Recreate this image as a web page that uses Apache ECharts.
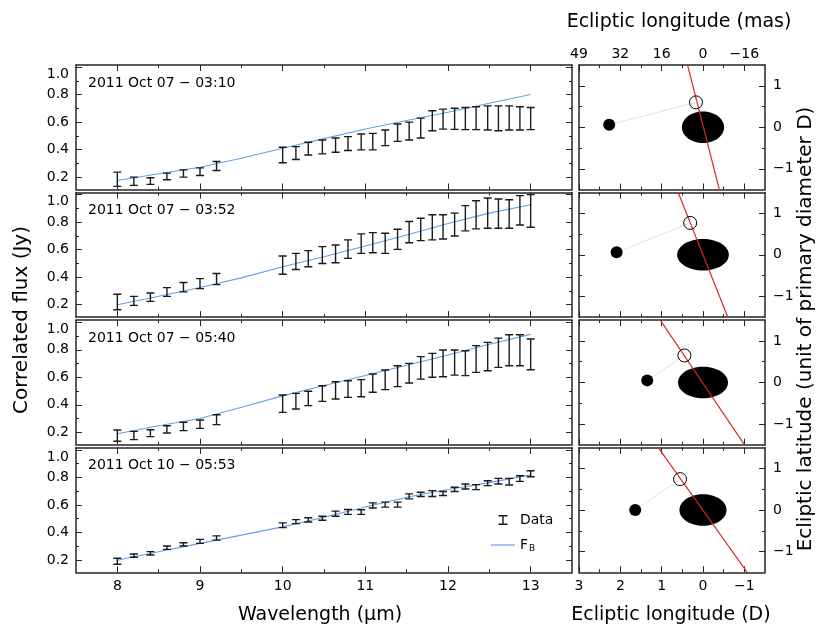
<!DOCTYPE html>
<html><head><meta charset="utf-8">
<script src="https://cdn.jsdelivr.net/npm/echarts@6/dist/echarts.min.js"></script>
<style>html,body{margin:0;padding:0;background:#fff}#c{width:829px;height:628px}</style>
</head><body><div id="c"></div><script>
// ---------- data ----------
const wavelengths = [8.0,8.2,8.4,8.6,8.8,9.0,9.2,10.0,10.16,10.31,10.48,10.64,10.79,10.95,11.09,11.24,11.39,11.53,11.67,11.81,11.94,12.08,12.21,12.34,12.48,12.61,12.74,12.87,13.0];

const fluxLow1  = [0.133,0.14,0.147,0.181,0.2,0.212,0.248,0.304,0.328,0.361,0.369,0.381,0.393,0.398,0.398,0.429,0.46,0.47,0.484,0.537,0.549,0.547,0.545,0.545,0.542,0.537,0.542,0.542,0.545];
const fluxHigh1 = [0.236,0.2,0.195,0.229,0.253,0.267,0.313,0.417,0.422,0.453,0.47,0.484,0.494,0.513,0.518,0.542,0.586,0.6,0.629,0.682,0.694,0.701,0.706,0.711,0.718,0.718,0.718,0.711,0.706];

const fluxLow2  = [0.163,0.195,0.224,0.261,0.293,0.317,0.346,0.422,0.456,0.476,0.5,0.505,0.537,0.573,0.578,0.573,0.602,0.651,0.666,0.671,0.678,0.7,0.737,0.751,0.756,0.756,0.756,0.78,0.763];
const fluxHigh2 = [0.276,0.261,0.285,0.324,0.361,0.39,0.427,0.554,0.573,0.593,0.622,0.634,0.671,0.715,0.724,0.72,0.749,0.805,0.829,0.854,0.854,0.866,0.92,0.956,0.976,0.968,0.963,0.993,1.0];

const fluxLow3  = [0.135,0.147,0.169,0.195,0.212,0.229,0.256,0.345,0.369,0.394,0.425,0.442,0.454,0.459,0.491,0.51,0.532,0.558,0.587,0.6,0.604,0.616,0.612,0.636,0.648,0.672,0.684,0.684,0.655];
const fluxHigh3 = [0.217,0.207,0.219,0.248,0.273,0.29,0.328,0.471,0.483,0.498,0.539,0.568,0.575,0.583,0.624,0.653,0.684,0.701,0.75,0.774,0.798,0.798,0.793,0.83,0.854,0.885,0.909,0.909,0.878];

const fluxLow4  = [0.169,0.219,0.236,0.277,0.301,0.32,0.344,0.435,0.464,0.476,0.488,0.517,0.531,0.531,0.577,0.584,0.584,0.644,0.661,0.661,0.668,0.697,0.716,0.711,0.74,0.752,0.745,0.771,0.805];
const fluxHigh4 = [0.212,0.243,0.26,0.301,0.325,0.349,0.375,0.469,0.493,0.507,0.517,0.555,0.567,0.565,0.615,0.62,0.62,0.68,0.692,0.704,0.697,0.728,0.752,0.747,0.776,0.793,0.793,0.812,0.848];

const modelWavelengths = [8,8.5,9,9.5,10,10.5,11,11.5,12,12.5,13];
const model1 = [0.175,0.225,0.272,0.337,0.41,0.48,0.55,0.612,0.672,0.737,0.8];
const model2 = [0.2,0.261,0.325,0.395,0.476,0.549,0.627,0.707,0.79,0.866,0.927];
const model3 = [0.19,0.248,0.3,0.382,0.465,0.54,0.613,0.688,0.762,0.84,0.912];
const model4 = [0.198,0.26,0.32,0.38,0.44,0.51,0.585,0.655,0.712,0.762,0.818];

const epochLabels = ['2011 Oct 07 \u2212 03:10','2011 Oct 07 \u2212 03:52','2011 Oct 07 \u2212 05:40','2011 Oct 10 \u2212 05:53'];

// satellite measured position (filled), predicted position (open), in units of D
const satelliteMeasured  = [[2.27,0.06],[2.09,0.06],[1.35,0.05],[1.64,0.0]];
const satellitePredicted = [[0.17,0.60],[0.31,0.77],[0.45,0.65],[0.555,0.745]];
// primary projected ellipse semi-axes (x, y)
const primaryRadiusX = [0.51,0.625,0.605,0.57];
const primaryRadiusY = [0.38,0.38,0.38,0.38];
// red line end points
const redLineTop    = [[0.40,1.6],[0.64,1.6],[1.10,1.6],[1.15,1.6]];
const redLineBottom = [[-0.42,-1.6],[-0.64,-1.6],[-1.07,-1.6],[-1.14,-1.6]];

// tick values / labels
const fluxXMajor = [8,9,10,11,12,13];
const fluxXMinor = [8.5,9.5,10.5,11.5,12.5];
const fluxYMajor = [0.2,0.4,0.6,0.8,1.0];
const fluxYMinor = [0.3,0.5,0.7,0.9];
const lonMajor = [3,2,1,0,-1];
const lonMinor = [2.5,1.5,0.5,-0.5];
const lonMasLabels = ['49','32','16','0','\u221216'];
const latMajor = [1,0,-1];
const latMinor = [0.5,-0.5];

// ---------- layout ----------
const FONT = 'DejaVu Sans';
const T = [65, 192.6, 320.2, 447.8];
const H = 124.5;
const AX = '#262626';
const BLUE = '#64a0f0';

const grids = [], xAxes = [], yAxes = [], series = [], titles = [];
const minusFmt = v => String(v).replace('-', '\u2212');

function axis(gi, pos, min, max, inv, ticks, len, showLine, labels, fmt, extra) {
  return {
    type: 'value', gridIndex: gi, position: pos, min: min, max: max, inverse: inv,
    axisLine: {show: showLine, onZero: false, lineStyle: {color: AX, width: 1.5}},
    axisTick: {show: true, inside: true, length: len, customValues: ticks, lineStyle: {color: AX, width: 1}},
    axisLabel: labels ? Object.assign({show: true, customValues: labels, formatter: fmt, color: '#000', fontSize: 14, fontFamily: FONT}, extra || {}) : {show: false},
    splitLine: {show: false}, minorTick: {show: false}, minorSplitLine: {show: false}
  };
}
function push(arr, o) { arr.push(o); return arr.length - 1; }

const lows = [fluxLow1, fluxLow2, fluxLow3, fluxLow4];
const highs = [fluxHigh1, fluxHigh2, fluxHigh3, fluxHigh4];
const models = [model1, model2, model3, model4];

function errorBarRender(params, api) {
  const x = api.value(0), lo = api.value(1), hi = api.value(2);
  const a = api.coord([x, lo]), b = api.coord([x, hi]);
  const hw = 4;
  const st = {stroke: '#1a1a1a', lineWidth: 1.4, fill: null};
  return {type: 'group', children: [
    {type: 'line', shape: {x1: a[0], y1: a[1], x2: b[0], y2: b[1]}, style: st},
    {type: 'line', shape: {x1: a[0] - hw, y1: a[1], x2: a[0] + hw, y2: a[1]}, style: st},
    {type: 'line', shape: {x1: b[0] - hw, y1: b[1], x2: b[0] + hw, y2: b[1]}, style: st}
  ]};
}
function ellipseRender(params, api) {
  const c = api.coord([api.value(0), api.value(1)]);
  const s = api.size([api.value(2), api.value(3)]);
  return {type: 'ellipse', shape: {cx: c[0], cy: c[1], rx: s[0], ry: s[1]}, style: {fill: '#000'}};
}

for (let i = 0; i < 4; i++) {
  // ----- left (flux) panel -----
  const gi = push(grids, {left: 76, top: T[i], width: 496, height: H, outerBoundsMode: 'none'});
  const last = i === 3;
  const xb = push(xAxes, axis(gi, 'bottom', 7.5, 13.5, false, fluxXMajor, 6, true, last ? fluxXMajor : null, v => String(v), {margin: 7}));
  push(xAxes, axis(gi, 'bottom', 7.5, 13.5, false, fluxXMinor, 3, false, null));
  push(xAxes, axis(gi, 'top', 7.5, 13.5, false, fluxXMajor, 6, true, null));
  push(xAxes, axis(gi, 'top', 7.5, 13.5, false, fluxXMinor, 3, false, null));
  const yl = push(yAxes, axis(gi, 'left', 0.11, 1.015, false, fluxYMajor, 6, true, fluxYMajor, v => v.toFixed(1), {margin: 7, verticalAlignMaxLabel: 'top'}));
  push(yAxes, axis(gi, 'left', 0.11, 1.015, false, fluxYMinor, 3, false, null));
  push(yAxes, axis(gi, 'right', 0.11, 1.015, false, fluxYMajor, 6, true, null));
  push(yAxes, axis(gi, 'right', 0.11, 1.015, false, fluxYMinor, 3, false, null));

  series.push({
    name: 'Data', type: 'custom', xAxisIndex: xb, yAxisIndex: yl, clip: true,
    renderItem: errorBarRender, itemStyle: {color: '#1a1a1a'}, encode: {x: 0, y: [1, 2]},
    data: wavelengths.map((w, j) => [w, lows[i][j], highs[i][j]]), z: 3
  });
  series.push({
    name: 'F_B', type: 'line', xAxisIndex: xb, yAxisIndex: yl, symbol: 'none', showSymbol: false,
    lineStyle: {color: BLUE, width: 1.1}, itemStyle: {color: BLUE},
    data: modelWavelengths.map((w, j) => [w, models[i][j]]), z: 2
  });
  titles.push({text: epochLabels[i], left: 88, top: T[i] + 11, padding: 0,
    textStyle: {fontSize: 14, fontWeight: 'normal', fontFamily: FONT, color: '#000'}});

  // ----- right (astrometry) panel -----
  const gr = push(grids, {left: 579, top: T[i], width: 186, height: H, outerBoundsMode: 'none'});
  const rxb = push(xAxes, axis(gr, 'bottom', -1.5, 3, true, lonMajor, 6, true, last ? lonMajor : null, minusFmt, {margin: 7}));
  push(xAxes, axis(gr, 'bottom', -1.5, 3, true, lonMinor, 3, false, null));
  push(xAxes, axis(gr, 'top', -1.5, 3, true, lonMajor, 6, true, i === 0 ? lonMajor : null,
    v => lonMasLabels[lonMajor.indexOf(Math.round(v))], {margin: 4}));
  push(xAxes, axis(gr, 'top', -1.5, 3, true, lonMinor, 3, false, null));
  const ryl = push(yAxes, axis(gr, 'left', -1.5, 1.5, false, latMajor, 6, true, null));
  push(yAxes, axis(gr, 'left', -1.5, 1.5, false, latMinor, 3, false, null));
  push(yAxes, axis(gr, 'right', -1.5, 1.5, false, latMajor, 6, true, latMajor, minusFmt, {margin: 8, padding: [8, 0, 0, 0]}));
  push(yAxes, axis(gr, 'right', -1.5, 1.5, false, latMinor, 3, false, null));

  series.push({
    name: 'primary' + i, type: 'custom', xAxisIndex: rxb, yAxisIndex: ryl, renderItem: ellipseRender,
    data: [[0, 0, primaryRadiusX[i], primaryRadiusY[i]]], z: 2
  });
  series.push({
    name: 'link' + i, type: 'line', xAxisIndex: rxb, yAxisIndex: ryl, symbol: 'none',
    lineStyle: {color: '#c4c4c4', width: 1, type: 'dotted'},
    data: [satelliteMeasured[i], satellitePredicted[i]], z: 3
  });
  series.push({
    name: 'redline' + i, type: 'line', xAxisIndex: rxb, yAxisIndex: ryl, symbol: 'none', clip: true,
    lineStyle: {color: '#d82828', width: 1.2},
    data: [redLineTop[i], redLineBottom[i]], z: 4
  });
  series.push({
    name: 'sat' + i, type: 'scatter', xAxisIndex: rxb, yAxisIndex: ryl, symbolSize: 12,
    itemStyle: {color: '#000', opacity: 1}, data: [satelliteMeasured[i]], z: 5
  });
  series.push({
    name: 'pred' + i, type: 'scatter', xAxisIndex: rxb, yAxisIndex: ryl, symbolSize: 13,
    itemStyle: {color: 'rgba(0,0,0,0)', borderColor: '#000', borderWidth: 1, opacity: 1}, data: [satellitePredicted[i]], z: 5
  });
}

const tTxt = (text, x, y, rot, size) => ({
  type: 'text', x: x, y: y, rotation: rot || 0,
  style: {text: text, fontSize: size || 19, fontFamily: FONT, fill: '#000', textAlign: 'center', textVerticalAlign: 'middle'}
});

const option = {
  animation: false,
  backgroundColor: '#fff',
  title: titles,
  grid: grids, xAxis: xAxes, yAxis: yAxes, series: series,
  legend: {
    data: [{name: 'Data', icon: 'path://M0,0H9V1.4H5.2V8.6H9V10H0V8.6H3.8V1.4H0Z'},
           {name: 'F_B', icon: 'path://M0,0H24V1.2H0Z'}],
    orient: 'vertical', left: 491, top: 513, itemWidth: 24, itemHeight: 10, itemGap: 11,
    selectedMode: false, padding: 0,
    textStyle: {fontSize: 14, fontFamily: FONT, color: '#000',
      rich: {a: {fontSize: 14, fontFamily: FONT, color: '#000'}, b: {fontSize: 9, fontFamily: FONT, color: '#000', padding: [8, 0, 0, 1]}}},
    formatter: n => n === 'F_B' ? '{a|F}{b|B}' : n
  },
  graphic: [
    tTxt('Ecliptic longitude (mas)', 679, 22),
    tTxt('Wavelength (\u03bcm)', 320, 615),
    tTxt('Ecliptic longitude (D)', 671, 615),
    tTxt('Correlated flux (Jy)', 22, 320, Math.PI / 2, 20),
    tTxt('Ecliptic latitude (unit of primary diameter D)', 806, 329, Math.PI / 2, 20)
  ]
};
const chart = echarts.init(document.getElementById('c'), null, {renderer: 'canvas'});
chart.setOption(option);
</script></body></html>
